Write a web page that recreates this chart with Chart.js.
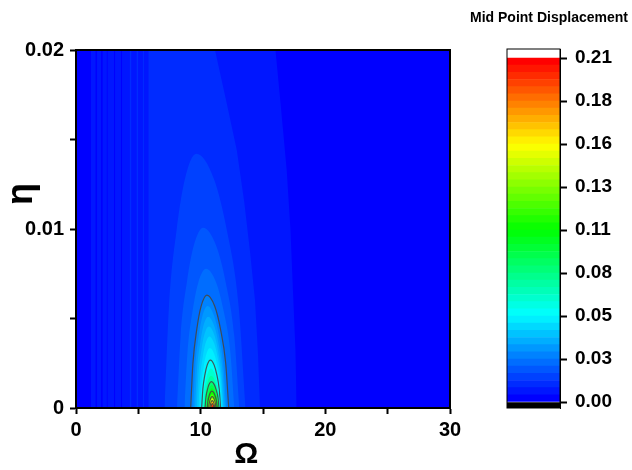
<!DOCTYPE html>
<html>
<head>
<meta charset="utf-8">
<script src="https://cdn.jsdelivr.net/npm/chart.js@4.4.1/dist/chart.umd.min.js"></script>
<style>
  html, body { margin: 0; padding: 0; background: #fff; }
  #wrap { position: relative; width: 632px; height: 470px; }
  #main { position: absolute; left: 0; top: 0; }
  #bar { position: absolute; left: 470px; top: 0; }
</style>
</head>
<body>
<div id="wrap">
  <canvas id="main" width="470" height="470"></canvas>
  <canvas id="bar" width="162" height="470"></canvas>
</div>
<script>
// Axis ticks
const omegaTicks = [0, 5, 10, 15, 20, 25, 30];
const omegaLabels = ['0', '', '10', '', '20', '', '30'];
const etaTicks = [0, 0.005, 0.01, 0.015, 0.02];
const etaLabels = ['0', '', '0.01', '', '0.02'];
const barTicks = [0, 0.02625, 0.0525, 0.07875, 0.105, 0.13125, 0.1575, 0.18375, 0.21];
const barLabels = ['0.00', '0.03', '0.05', '0.08', '0.11', '0.13', '0.16', '0.18', '0.21'];

// Colour scale: 48 contour levels between 0 and 0.21
const levelCount = 48;
const levelMax = 0.21;
const cmapValues = [0, 0.0525, 0.105, 0.1575, 0.21];
const cmapColors = [[0, 0, 255], [0, 255, 255], [0, 255, 0], [255, 255, 0], [255, 0, 0]];
const contourLineLevels = [6, 12, 18, 24, 30, 36, 42];

// Whole field (lowest level)
const fieldOmega = [0, 0, 30, 30];
const fieldEta = [0, 0.021, 0.021, 0];

// Level 1 region (right edge)
const level1Omega = [1.2, 1.2, 15.85, 16.0, 16.45, 16.9, 17.2, 17.4, 17.6, 17.7];
const level1Eta = [0, 0.021, 0.021, 0.02, 0.0167, 0.0133, 0.01, 0.0066, 0.0033, 0];

// Level 2 region
const level2Omega = [5.8, 5.8, 11.0, 11.15, 12.1, 12.9, 13.5, 13.95, 14.36, 14.6, 14.76];
const level2Eta = [0, 0.021, 0.021, 0.02, 0.017, 0.0144, 0.0115, 0.0088, 0.006, 0.003, 0];

// Vertical streaks on the low-frequency side
const stripeStart = [1.55, 2.0, 2.45, 3.05, 3.6, 4.3, 4.85, 5.35, 6.4, 7.3];
const stripeEnd = [1.7, 2.15, 2.55, 3.15, 3.7, 4.45, 5.0, 5.45, 6.5, 7.4];
const stripeLevel = [0, 0, 0, 0, 0, 2, 2, 2, 3, 3];

// Resonance arches, one per contour level
const arch3Omega = [7.1, 7.457, 8.069, 8.732, 9.65, 11.072, 12.099, 13.047, 13.6];
const arch3Eta = [0, 0.00568, 0.00994, 0.01278, 0.0142, 0.01278, 0.00994, 0.00568, 0];
const arch4Omega = [8.1, 8.394, 8.898, 9.444, 10.2, 11.244, 11.998, 12.694, 13.1];
const arch4Eta = [0, 0.00403, 0.00705, 0.00906, 0.01007, 0.00906, 0.00705, 0.00403, 0];
const arch5Omega = [8.7, 8.942, 9.357, 9.807, 10.43, 11.247, 11.837, 12.382, 12.7];
const arch5Eta = [0, 0.00311, 0.00545, 0.007, 0.00778, 0.007, 0.00545, 0.00311, 0];
const arch6Omega = [9.2, 9.382, 9.694, 10.032, 10.5, 11.13, 11.585, 12.005, 12.25];
const arch6Eta = [0, 0.00252, 0.00442, 0.00568, 0.00631, 0.00568, 0.00442, 0.00252, 0];
const arch7Omega = [9.4, 9.561, 9.837, 10.136, 10.55, 11.09, 11.48, 11.84, 12.05];
const arch7Eta = [0, 0.00228, 0.00399, 0.00513, 0.0057, 0.00513, 0.00399, 0.00228, 0];
const arch8Omega = [9.55, 9.697, 9.949, 10.222, 10.6, 11.086, 11.437, 11.761, 11.95];
const arch8Eta = [0, 0.00204, 0.00357, 0.00459, 0.0051, 0.00459, 0.00357, 0.00204, 0];
const arch9Omega = [9.68, 9.816, 10.049, 10.301, 10.65, 11.082, 11.394, 11.682, 11.85];
const arch9Eta = [0, 0.00182, 0.00319, 0.0041, 0.00455, 0.0041, 0.00319, 0.00182, 0];
const arch10Omega = [9.82, 9.943, 10.154, 10.383, 10.7, 11.089, 11.37, 11.629, 11.78];
const arch10Eta = [0, 0.0016, 0.0028, 0.0036, 0.004, 0.0036, 0.0028, 0.0016, 0];
const arch11Omega = [9.95, 10.061, 10.25, 10.456, 10.74, 11.086, 11.335, 11.566, 11.7];
const arch11Eta = [0, 0.00134, 0.00235, 0.00302, 0.00335, 0.00302, 0.00235, 0.00134, 0];
const arch12Omega = [10.08, 10.178, 10.346, 10.528, 10.78, 11.075, 11.288, 11.485, 11.6];
const arch12Eta = [0, 0.00107, 0.00188, 0.00241, 0.00268, 0.00241, 0.00188, 0.00107, 0];
const arch14Omega = [10.18, 10.27, 10.423, 10.59, 10.82, 11.083, 11.273, 11.448, 11.55];
const arch14Eta = [0, 0.00088, 0.00154, 0.00198, 0.0022, 0.00198, 0.00154, 0.00088, 0];
const arch16Omega = [10.27, 10.35, 10.487, 10.635, 10.84, 11.081, 11.255, 11.416, 11.51];
const arch16Eta = [0, 0.00072, 0.00126, 0.00162, 0.0018, 0.00162, 0.00126, 0.00072, 0];
const arch18Omega = [10.35, 10.421, 10.544, 10.676, 10.86, 11.08, 11.238, 11.385, 11.47];
const arch18Eta = [0, 0.00059, 0.00103, 0.00132, 0.00147, 0.00132, 0.00103, 0.00059, 0];
const arch20Omega = [10.42, 10.484, 10.595, 10.714, 10.88, 11.074, 11.215, 11.344, 11.42];
const arch20Eta = [0, 0.00051, 0.0009, 0.00115, 0.00128, 0.00115, 0.0009, 0.00051, 0];
const arch22Omega = [10.48, 10.537, 10.636, 10.742, 10.89, 11.063, 11.188, 11.303, 11.37];
const arch22Eta = [0, 0.00044, 0.00077, 0.00099, 0.0011, 0.00099, 0.00077, 0.00044, 0];
const arch24Omega = [10.53, 10.582, 10.671, 10.767, 10.9, 11.055, 11.167, 11.27, 11.33];
const arch24Eta = [0, 0.00038, 0.00066, 0.00085, 0.00094, 0.00085, 0.00066, 0.00038, 0];
const arch27Omega = [10.59, 10.635, 10.712, 10.795, 10.91, 11.04, 11.133, 11.22, 11.27];
const arch27Eta = [0, 0.00031, 0.00054, 0.00069, 0.00077, 0.00069, 0.00054, 0.00031, 0];
const arch30Omega = [10.65, 10.688, 10.753, 10.823, 10.92, 11.028, 11.106, 11.178, 11.22];
const arch30Eta = [0, 0.00025, 0.00044, 0.00057, 0.00063, 0.00057, 0.00044, 0.00025, 0];
const arch33Omega = [10.7, 10.732, 10.787, 10.847, 10.93, 11.016, 11.079, 11.136, 11.17];
const arch33Eta = [0, 0.00021, 0.00036, 0.00047, 0.00052, 0.00047, 0.00036, 0.00021, 0];
const arch36Omega = [10.75, 10.775, 10.818, 10.865, 10.93, 10.998, 11.048, 11.093, 11.12];
const arch36Eta = [0, 0.00016, 0.00029, 0.00037, 0.00041, 0.00037, 0.00029, 0.00016, 0];
const arch39Omega = [10.79, 10.811, 10.847, 10.886, 10.94, 10.99, 11.027, 11.06, 11.08];
const arch39Eta = [0, 0.00013, 0.00023, 0.0003, 0.00033, 0.0003, 0.00023, 0.00013, 0];
const arch42Omega = [10.83, 10.845, 10.872, 10.9, 10.94, 10.98, 11.008, 11.035, 11.05];
const arch42Eta = [0, 0.0001, 0.000175, 0.000225, 0.00025, 0.000225, 0.000175, 0.0001, 0];
const arch44Omega = [10.86, 10.871, 10.89, 10.911, 10.94, 10.969, 10.99, 11.009, 11.02];
const arch44Eta = [0, 0.00007, 0.00013, 0.00016, 0.00018, 0.00016, 0.00013, 0.00007, 0];
const arch46Omega = [10.89, 10.897, 10.909, 10.922, 10.94, 10.958, 10.971, 10.983, 10.99];
const arch46Eta = [0, 0.00005, 0.00008, 0.00011, 0.00012, 0.00011, 0.00008, 0.00005, 0];

const arches = [
  [3, arch3Omega, arch3Eta], [4, arch4Omega, arch4Eta], [5, arch5Omega, arch5Eta],
  [6, arch6Omega, arch6Eta], [7, arch7Omega, arch7Eta], [8, arch8Omega, arch8Eta],
  [9, arch9Omega, arch9Eta], [10, arch10Omega, arch10Eta], [11, arch11Omega, arch11Eta],
  [12, arch12Omega, arch12Eta], [14, arch14Omega, arch14Eta], [16, arch16Omega, arch16Eta],
  [18, arch18Omega, arch18Eta], [20, arch20Omega, arch20Eta], [22, arch22Omega, arch22Eta],
  [24, arch24Omega, arch24Eta], [27, arch27Omega, arch27Eta], [30, arch30Omega, arch30Eta],
  [33, arch33Omega, arch33Eta], [36, arch36Omega, arch36Eta], [39, arch39Omega, arch39Eta],
  [42, arch42Omega, arch42Eta], [44, arch44Omega, arch44Eta], [46, arch46Omega, arch46Eta]
];

const FONT = "'Liberation Sans', Arial, sans-serif";

// Colour of a contour level
function levelColor(k) {
  const v = k / (levelCount - 1) * levelMax;
  let i = 0;
  while (i < cmapValues.length - 2 && v > cmapValues[i + 1]) i++;
  const t = Math.min(1, Math.max(0, (v - cmapValues[i]) / (cmapValues[i + 1] - cmapValues[i])));
  const a = cmapColors[i], b = cmapColors[i + 1];
  const c = a.map((ch, j) => Math.round(ch + (b[j] - ch) * t));
  return `rgb(${c[0]},${c[1]},${c[2]})`;
}

function toPoints(xs, ys) {
  return xs.map((x, i) => ({ x: x, y: ys[i] }));
}

// Datasets in drawing order (first = bottom)
const regions = [];
function addRegion(xs, ys, level, smooth) {
  const outline = contourLineLevels.includes(level) && smooth;
  regions.push({
    data: toPoints(xs, ys),
    showLine: true,
    fill: 'origin',
    backgroundColor: levelColor(level),
    borderColor: outline ? 'rgba(70,70,70,0.9)' : levelColor(level),
    borderWidth: outline ? 1.2 : 0,
    pointRadius: 0,
    pointHoverRadius: 0,
    tension: 0,
    cubicInterpolationMode: smooth ? 'monotone' : 'default'
  });
}

addRegion(fieldOmega, fieldEta, 0, false);
addRegion(level1Omega, level1Eta, 1, false);
stripeStart.forEach((s, i) => {
  addRegion([s, s, stripeEnd[i], stripeEnd[i]], [0, 0.021, 0.021, 0], stripeLevel[i], false);
});
addRegion(level2Omega, level2Eta, 2, false);
arches.forEach(([level, xs, ys]) => addRegion(xs, ys, level, true));

// Frame around the plot area
const framePlugin = {
  id: 'frame',
  afterDatasetsDraw(chart, args, opts) {
    const { ctx, chartArea: a } = chart;
    ctx.save();
    ctx.strokeStyle = '#000';
    ctx.lineWidth = opts.width || 1;
    ctx.strokeRect(a.left, a.top, a.right - a.left, a.bottom - a.top);
    ctx.restore();
  }
};

const tickFont = { family: FONT, size: 20, weight: 'bold' };

new Chart(document.getElementById('main'), {
  type: 'scatter',
  data: { datasets: regions.slice().reverse() },
  plugins: [framePlugin],
  options: {
    responsive: false,
    animation: false,
    devicePixelRatio: 1,
    events: [],
    layout: { padding: { left: 0, top: 50, right: 20, bottom: 0 } },
    plugins: {
      legend: { display: false },
      tooltip: { enabled: false },
      frame: { width: 2 }
    },
    scales: {
      x: {
        type: 'linear',
        min: 0,
        max: 30,
        afterBuildTicks: s => { s.ticks = omegaTicks.map(v => ({ value: v })); },
        afterFit: s => { s.height = 62; },
        ticks: {
          callback: v => omegaLabels[omegaTicks.indexOf(v)],
          color: '#000',
          font: tickFont,
          padding: 4,
          maxRotation: 0,
          autoSkip: false
        },
        grid: { drawOnChartArea: false, tickLength: 6, tickWidth: 2, tickColor: '#000' },
        border: { display: true, color: '#000', width: 2 },
        title: {
          display: true,
          text: 'Ω    ',
          color: '#000',
          font: { family: FONT, size: 30, weight: 'bold', lineHeight: 1 },
          padding: { top: 0, bottom: 0 }
        }
      },
      y: {
        type: 'linear',
        min: 0,
        max: 0.02,
        afterBuildTicks: s => { s.ticks = etaTicks.map(v => ({ value: v })); },
        afterFit: s => { s.width = 76; },
        ticks: {
          callback: v => etaLabels[etaTicks.indexOf(v)],
          color: '#000',
          font: tickFont,
          padding: 6,
          autoSkip: false
        },
        grid: { drawOnChartArea: false, tickLength: 6, tickWidth: 2, tickColor: '#000' },
        border: { display: true, color: '#000', width: 2 },
        title: {
          display: true,
          text: '       η',
          color: '#000',
          font: { family: FONT, size: 36, weight: 'bold', lineHeight: 1 },
          padding: { top: 4, bottom: 0 }
        }
      }
    }
  }
});

// Colour bar
const levelStep = levelMax / levelCount;
const barMin = -0.00366;
const barMax = 0.2155;
const barSets = [{ data: [[barMin, 0]], backgroundColor: '#000' }];
for (let k = 0; k < levelCount; k++) {
  barSets.push({ data: [[k * levelStep, (k + 1) * levelStep]], backgroundColor: levelColor(k) });
}
barSets.push({ data: [[levelMax, barMax]], backgroundColor: '#fff' });
barSets.forEach(d => {
  d.yAxisID = 'y';
  d.grouped = false;
  d.barPercentage = 1;
  d.categoryPercentage = 1;
  d.borderWidth = 0;
});

new Chart(document.getElementById('bar'), {
  type: 'bar',
  data: { labels: [''], datasets: barSets },
  plugins: [framePlugin],
  options: {
    responsive: false,
    animation: false,
    devicePixelRatio: 1,
    events: [],
    layout: { padding: { left: 0, top: 0, right: 4, bottom: 62 } },
    plugins: {
      legend: { display: false },
      tooltip: { enabled: false },
      frame: { width: 1 },
      title: {
        display: true,
        text: 'Mid Point Displacement',
        align: 'end',
        color: '#000',
        font: { family: FONT, size: 15, weight: 'bold', lineHeight: 1.2 },
        padding: { top: 9, bottom: 22 }
      }
    },
    scales: {
      x: { display: false },
      yLeft: {
        type: 'linear',
        position: 'left',
        display: true,
        min: 0,
        max: 1,
        grid: { display: false },
        ticks: { display: false },
        border: { display: false },
        afterFit: s => { s.width = 37; }
      },
      y: {
        position: 'right',
        min: barMin,
        max: barMax,
        afterBuildTicks: s => { s.ticks = barTicks.map(v => ({ value: v })); },
        afterFit: s => { s.width = 68; },
        ticks: {
          callback: v => barLabels[barTicks.indexOf(v)],
          color: '#000',
          font: { family: FONT, size: 19, weight: 'bold' },
          padding: 8,
          autoSkip: false
        },
        grid: { drawOnChartArea: false, tickLength: 7, tickWidth: 2, tickColor: '#000' },
        border: { display: true, color: '#000', width: 1 }
      }
    }
  }
});
</script>
</body>
</html>
